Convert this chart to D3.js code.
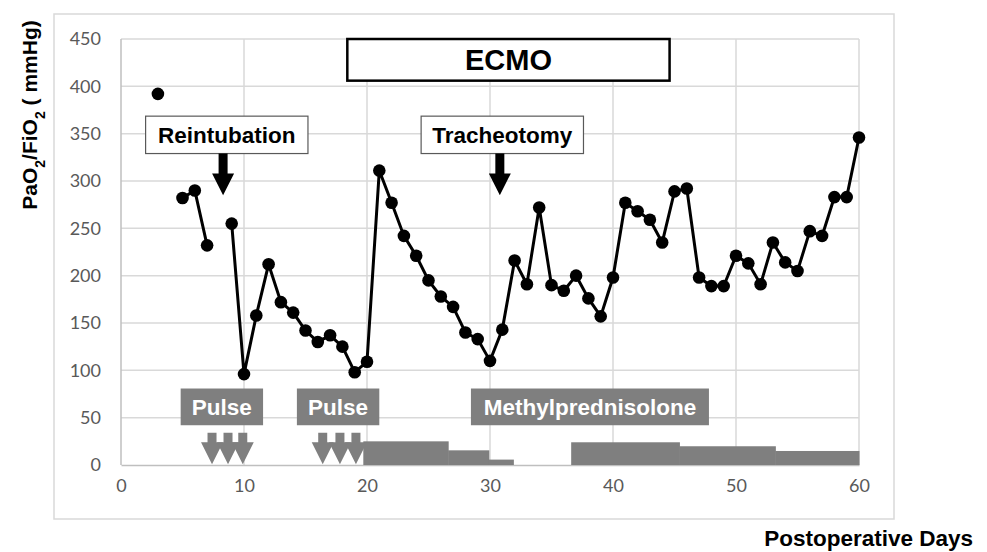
<!DOCTYPE html>
<html>
<head>
<meta charset="utf-8">
<script src="https://cdn.jsdelivr.net/npm/d3@7"></script>
<style>
  body { margin: 0; background: #fff; }
  svg { display: block; }
</style>
</head>
<body>
<div id="chart"></div>
<script>
// chart values
const DAYS = d3.range(3, 61);
const PF_RATIO = [392, null, 282, 290, 232, null, 255, 96, 158, 212,
                  172, 161, 142, 130, 137, 125, 98, 109, 311, 277,
                  242, 221, 195, 178, 167, 140, 133, 110, 143, 216,
                  191, 272, 190, 184, 200, 176, 157, 198, 277, 268,
                  259, 235, 289, 292, 198, 189, 189, 221, 213, 191,
                  235, 214, 205, 247, 242, 283, 283, 346];
const X_TICKS = [0, 10, 20, 30, 40, 50, 60];
const Y_TICKS = [0, 50, 100, 150, 200, 250, 300, 350, 400, 450];

// steroid doses: start day, end day, relative dose
const STEROID_START = [19.7, 26.6, 29.9, 36.6, 45.4, 53.2];
const STEROID_END   = [26.6, 29.9, 31.9, 45.4, 53.2, 60];
const STEROID_DOSE  = [25, 15.5, 5.7, 24, 19.8, 14.8];

// events
const PULSE_DAYS = [7.4, 8.7, 9.9, 16.4, 17.8, 19.1];
const EVENT_NAMES = ["Reintubation", "Tracheotomy"];
const EVENT_DAYS = [8.3, 30.8];
const ECMO_SPAN = [18.4, 44.6];

const F_WIDTH = 987, F_HEIGHT = 552;
const MARGINS = {left: 121, right: 128, top: 39, bottom: 87};

const FRAME = d3.select("#chart").append("svg")
  .attr("width", F_WIDTH).attr("height", F_HEIGHT);

const X_SCALE = d3.scaleLinear().domain([0, 60]).range([MARGINS.left, F_WIDTH - MARGINS.right]);
const Y_SCALE = d3.scaleLinear().domain([0, 450]).range([F_HEIGHT - MARGINS.bottom, MARGINS.top]);

const GREY = "#7f7f7f";
const BOLD = "'Liberation Sans', Arial, sans-serif";

// outer chart frame
FRAME.append("rect")
  .attr("x", 54).attr("y", 14).attr("width", 840).attr("height", 505)
  .attr("fill", "none").attr("stroke", "#d9d9d9").attr("stroke-width", 1.5);

// grid
FRAME.append("g").selectAll("line").data(Y_TICKS.slice(1)).join("line")
  .attr("x1", X_SCALE(0)).attr("x2", X_SCALE(60))
  .attr("y1", d => Y_SCALE(d)).attr("y2", d => Y_SCALE(d))
  .attr("stroke", "#d9d9d9").attr("stroke-width", 1.5);
FRAME.append("g").selectAll("line").data(X_TICKS.slice(1)).join("line")
  .attr("x1", d => X_SCALE(d)).attr("x2", d => X_SCALE(d))
  .attr("y1", Y_SCALE(0)).attr("y2", Y_SCALE(450))
  .attr("stroke", "#d9d9d9").attr("stroke-width", 1.5);

// axes
const xAxis = FRAME.append("g")
  .attr("transform", "translate(0," + Y_SCALE(0) + ")")
  .call(d3.axisBottom(X_SCALE).tickValues(X_TICKS).tickSize(0).tickPadding(14));
const yAxis = FRAME.append("g")
  .attr("transform", "translate(" + X_SCALE(0) + ",0)")
  .call(d3.axisLeft(Y_SCALE).tickValues(Y_TICKS).tickSize(0).tickPadding(20));
[xAxis, yAxis].forEach(a => {
  a.select(".domain").attr("stroke", "#bfbfbf").attr("stroke-width", 1.5);
  a.selectAll("text").attr("fill", "#595959")
    .style("font-family", "Lato, sans-serif").style("font-size", "18px");
});
yAxis.select(".domain").attr("d", "M0," + Y_SCALE(0) + "V" + Y_SCALE(450));

// steroid step bars
FRAME.append("g").selectAll("rect").data(STEROID_DOSE).join("rect")
  .attr("x", (d, i) => X_SCALE(STEROID_START[i]))
  .attr("width", (d, i) => X_SCALE(STEROID_END[i]) - X_SCALE(STEROID_START[i]) + 0.5)
  .attr("y", d => Y_SCALE(d))
  .attr("height", d => Y_SCALE(0) - Y_SCALE(d))
  .attr("fill", GREY);

// pulse arrows
const pulseArrow = (d) => {
  const x = X_SCALE(d);
  const yTop = Y_SCALE(34), yHead = Y_SCALE(24), yTip = Y_SCALE(0.7);
  return "M" + (x - 4.5) + "," + yTop + "H" + (x + 4.5) + "V" + yHead +
    "H" + (x + 11) + "L" + x + "," + yTip + "L" + (x - 11) + "," + yHead +
    "H" + (x - 4.5) + "Z";
};
FRAME.append("g").selectAll("path").data(PULSE_DAYS).join("path")
  .attr("d", pulseArrow).attr("fill", GREY);

// grey label boxes
const greyBoxes = [
  {label: "Pulse", x0: 4.85, x1: 11.55},
  {label: "Pulse", x0: 14.3, x1: 21.0},
  {label: "Methylprednisolone", x0: 28.45, x1: 47.8}
];
const gb = FRAME.append("g").selectAll("g").data(greyBoxes).join("g");
gb.append("rect")
  .attr("x", d => X_SCALE(d.x0)).attr("width", d => X_SCALE(d.x1) - X_SCALE(d.x0))
  .attr("y", Y_SCALE(80.8)).attr("height", Y_SCALE(42) - Y_SCALE(80.8))
  .attr("fill", GREY);
gb.append("text")
  .attr("x", d => (X_SCALE(d.x0) + X_SCALE(d.x1)) / 2)
  .attr("y", Y_SCALE(61.4)).attr("dy", "0.36em")
  .attr("text-anchor", "middle").attr("fill", "#fff")
  .style("font-family", BOLD).style("font-weight", "bold").style("font-size", "22.5px")
  .text(d => d.label);

// PaO2/FiO2 line and points
const points = DAYS.map((d, i) => ({day: d, v: PF_RATIO[i]}));
FRAME.append("path").datum(points)
  .attr("fill", "none").attr("stroke", "#000").attr("stroke-width", 3)
  .attr("d", d3.line().defined(d => d.v != null).x(d => X_SCALE(d.day)).y(d => Y_SCALE(d.v)));
FRAME.append("g").selectAll("circle").data(points.filter(d => d.v != null)).join("circle")
  .attr("cx", d => X_SCALE(d.day)).attr("cy", d => Y_SCALE(d.v))
  .attr("r", 6.3).attr("fill", "#000");

// ECMO box
FRAME.append("rect")
  .attr("x", X_SCALE(ECMO_SPAN[0])).attr("width", X_SCALE(ECMO_SPAN[1]) - X_SCALE(ECMO_SPAN[0]))
  .attr("y", Y_SCALE(450)).attr("height", Y_SCALE(406) - Y_SCALE(450))
  .attr("fill", "#fff").attr("stroke", "#000").attr("stroke-width", 2.5);
FRAME.append("text")
  .attr("x", X_SCALE((ECMO_SPAN[0] + ECMO_SPAN[1]) / 2)).attr("y", Y_SCALE(428)).attr("dy", "0.36em")
  .attr("text-anchor", "middle").attr("fill", "#000")
  .style("font-family", BOLD).style("font-weight", "bold").style("font-size", "29px")
  .text("ECMO");

// event boxes with arrows
const ev = FRAME.append("g").selectAll("g").data(EVENT_NAMES).join("g");
const boxSpan = [[2.0, 15.2], [24.4, 37.6]];
ev.append("rect")
  .attr("x", (d, i) => X_SCALE(boxSpan[i][0]))
  .attr("width", (d, i) => X_SCALE(boxSpan[i][1]) - X_SCALE(boxSpan[i][0]))
  .attr("y", Y_SCALE(368.5)).attr("height", Y_SCALE(329) - Y_SCALE(368.5))
  .attr("fill", "#fff").attr("stroke", "#595959").attr("stroke-width", 1.2);
ev.append("text")
  .attr("x", (d, i) => X_SCALE((boxSpan[i][0] + boxSpan[i][1]) / 2))
  .attr("y", Y_SCALE(348.7)).attr("dy", "0.36em")
  .attr("text-anchor", "middle").attr("fill", "#000")
  .style("font-family", BOLD).style("font-weight", "bold").style("font-size", "22.5px")
  .text(d => d);
ev.append("path")
  .attr("d", (d, i) => {
    const x = X_SCALE(EVENT_DAYS[i]);
    const yTop = Y_SCALE(329), yHead = Y_SCALE(308), yTip = Y_SCALE(285);
    return "M" + (x - 4.5) + "," + yTop + "H" + (x + 4.5) + "V" + yHead +
      "H" + (x + 11) + "L" + x + "," + yTip + "L" + (x - 11) + "," + yHead +
      "H" + (x - 4.5) + "Z";
  })
  .attr("fill", "#000");

// axis titles
const yTitle = FRAME.append("text")
  .attr("transform", "translate(37,115) rotate(-90)")
  .attr("text-anchor", "middle").attr("fill", "#000")
  .style("font-family", BOLD).style("font-weight", "bold").style("font-size", "21px");
yTitle.append("tspan").text("PaO");
yTitle.append("tspan").attr("baseline-shift", "sub").style("font-size", "14px").text("2");
yTitle.append("tspan").text("/FiO");
yTitle.append("tspan").attr("baseline-shift", "sub").style("font-size", "14px").text("2");
yTitle.append("tspan").text(" ( mmHg)");

FRAME.append("text")
  .attr("x", 973).attr("y", 546).attr("text-anchor", "end").attr("fill", "#000")
  .style("font-family", BOLD).style("font-weight", "bold").style("font-size", "22.5px")
  .text("Postoperative Days");
</script>
</body>
</html>
